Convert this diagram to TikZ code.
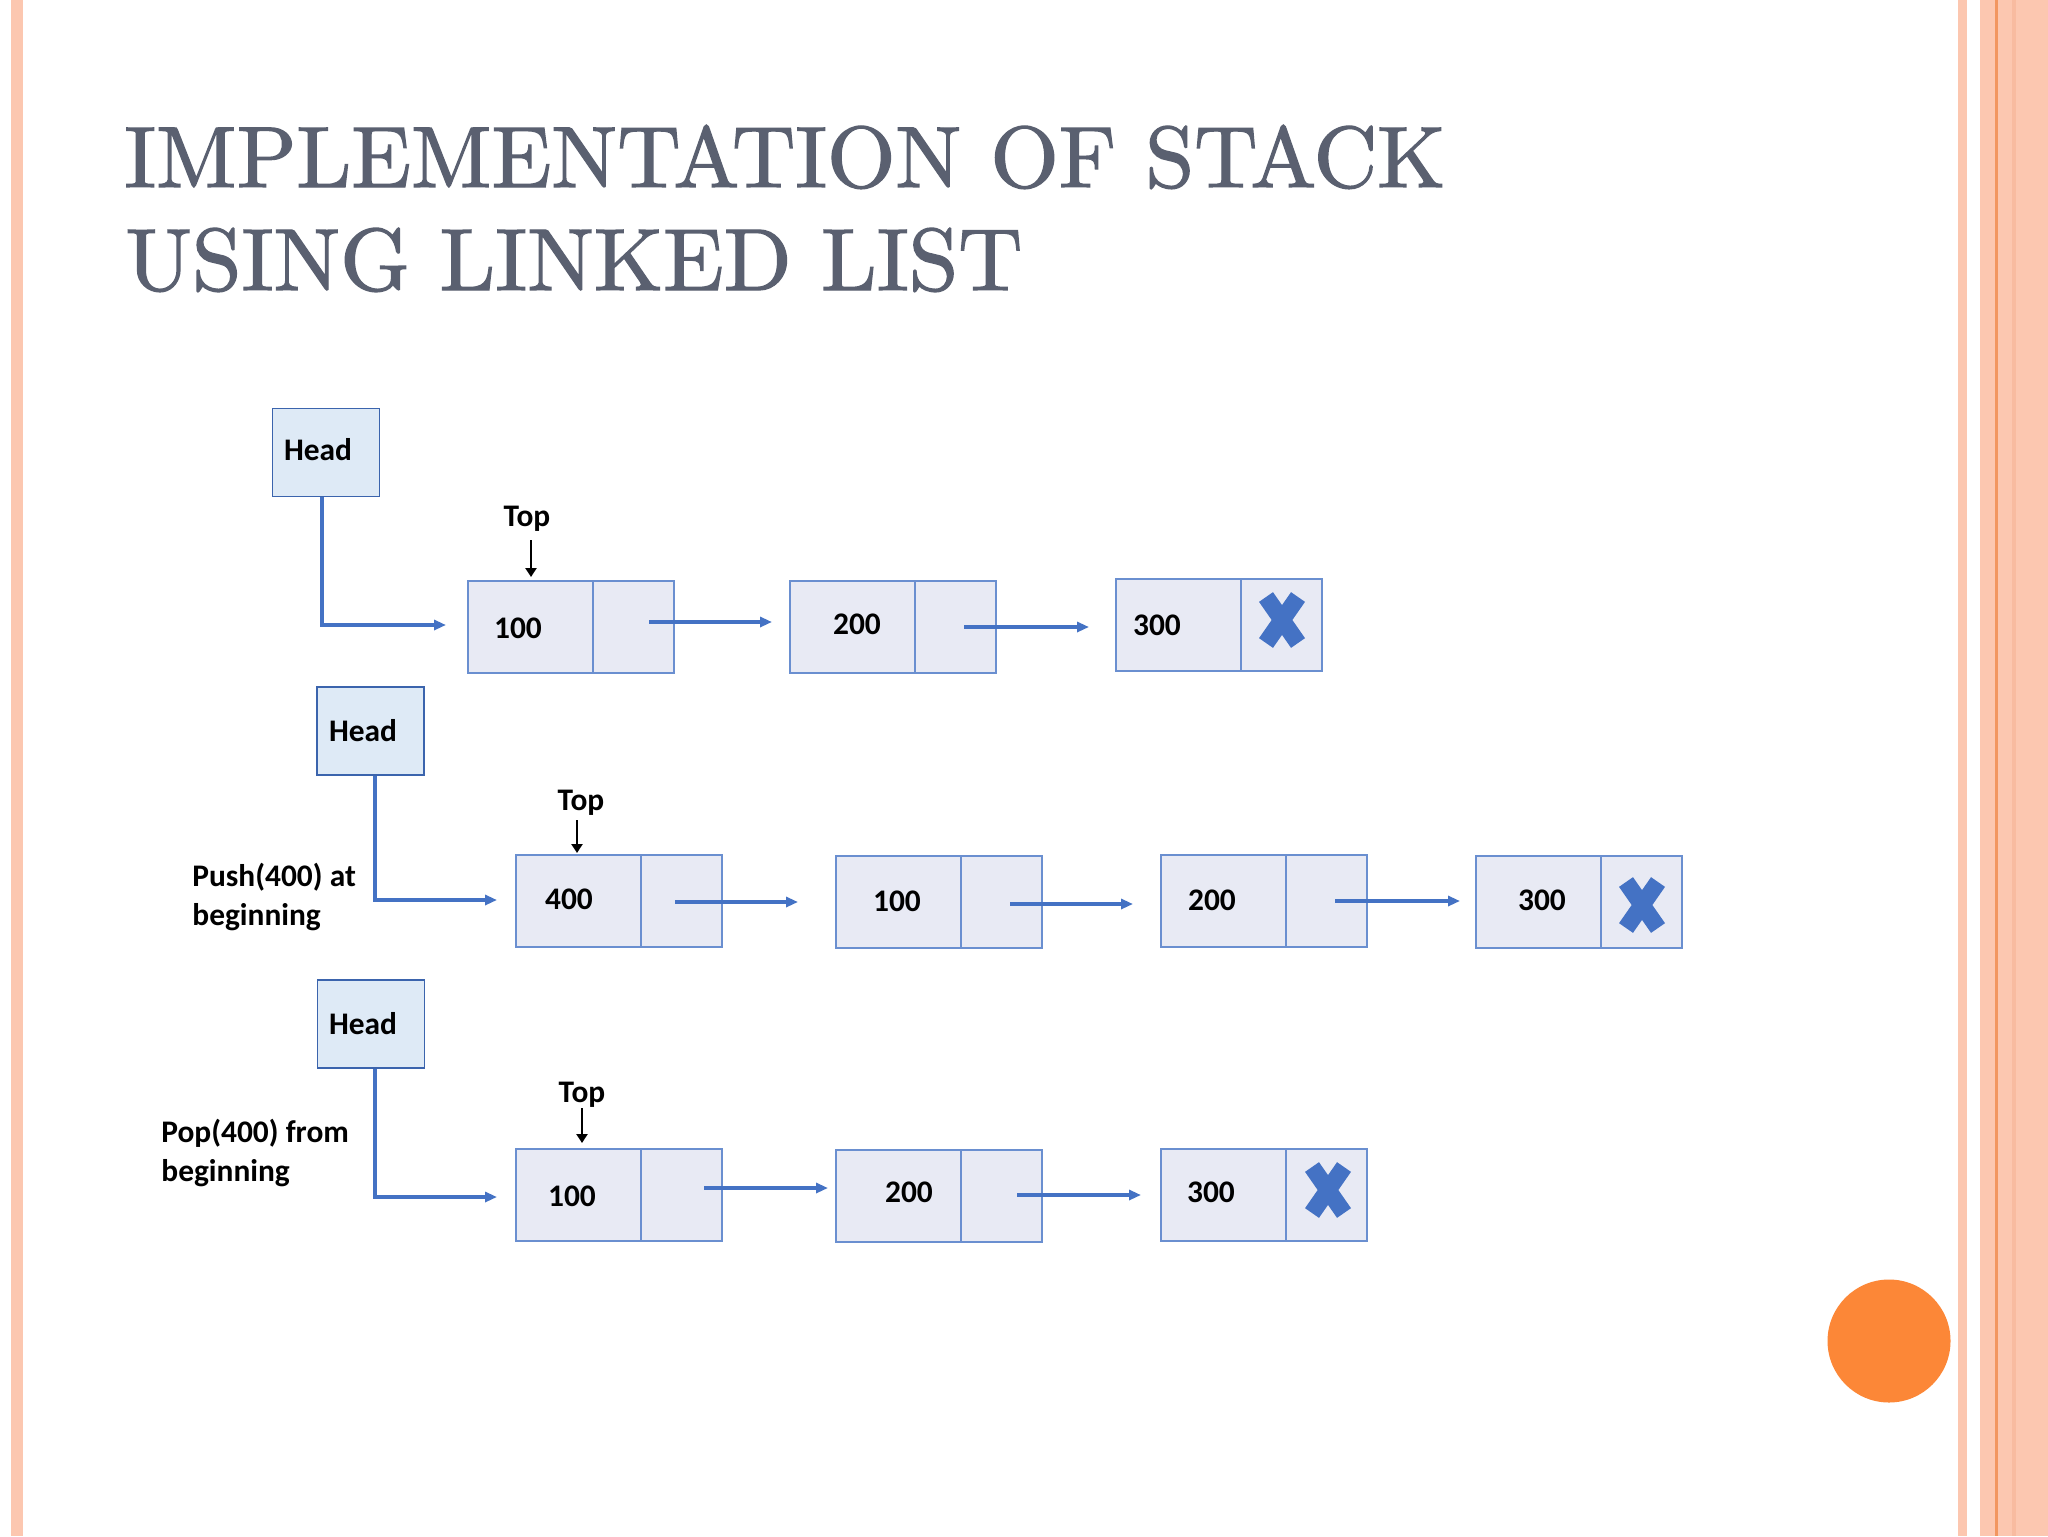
\documentclass[tikz,border=0pt]{standalone}
\usepackage{fontspec}
\newfontfamily\calib{Carlito}
\newfontfamily\titlefont[FakeBold=1.5]{Latin Modern Roman}
\usetikzlibrary{arrows.meta}
\definecolor{salmon}{HTML}{FCC7B0}
\definecolor{salmondk}{HTML}{F8BBA0}
\definecolor{orline}{HTML}{F29660}
\definecolor{titlegray}{HTML}{5A6070}
\definecolor{nodefill}{HTML}{E8EAF4}
\definecolor{headfill}{HTML}{DEEAF6}
\definecolor{nodeblue}{HTML}{6A8FD0}
\definecolor{headborder}{HTML}{3B64AD}
\definecolor{linkblue}{HTML}{4472C4}
\definecolor{dotorange}{HTML}{FC8737}
\tikzset{
  cellbox/.style={draw=nodeblue, fill=nodefill, line width=0.7pt, minimum height=46pt, inner sep=0pt},
  datacell/.style={cellbox, minimum width=62.5pt},
  ptrcell/.style={cellbox, minimum width=40.5pt},
  headbox/.style={draw=headborder, fill=headfill, line width=0.9pt, minimum width=53.5pt, minimum height=44pt, inner sep=0pt},
  txt/.style={font=\calib\bfseries\fontsize{15.7pt}{19.5pt}\selectfont, inner sep=0pt, text=black},
  link/.style={draw=linkblue, line width=1.7pt, -{Triangle[length=6pt,width=5pt]}},
  toparrow/.style={draw=black, line width=1.2pt, -{Triangle[length=4.5pt,width=5.5pt]}},
  xmark/.style={draw=linkblue, line width=8.5pt, line cap=butt},
  titletxt/.style={anchor=base west, inner sep=0pt, text=titlegray, font=\titlefont},
}
\begin{document}
\begin{tikzpicture}[x=0.5pt,y=-0.5pt]
\useasboundingbox (0,0) rectangle (2048,1536);
\fill[white] (0,0) rectangle (2048,1536);
% borders
\fill[salmon] (11,0) rectangle (23,1536);
\fill[salmon] (1958,0) rectangle (1967,1536);
\fill[salmon] (1980,0) rectangle (2048,1536);
\fill[orline] (1995,0) rectangle (1997.5,1536);
\fill[salmondk] (2012,0) rectangle (2016,1536);
% title
\node[titletxt] (title1) at (124,187)
  {\resizebox{660.5pt}{31pt}{IMPLEMENTATION OF STACK}};
\node[titletxt] (title2) at (125,290)
  {\resizebox{448.5pt}{31pt}{USING LINKED LIST}};
% orange dot
\fill[dotorange] (1889,1341) circle [radius=61.5];

% ---------- Row 1 ----------
\node[headbox] (h1) at (326,452.5) {};
\node[txt] (h1t) at (318,450) {Head};
\node[datacell] (r1d1) at (530.5,627) {};
\node[ptrcell]  (r1p1) at (633.5,627) {};
\node[datacell] (r1d2) at (852.5,627) {};
\node[ptrcell]  (r1p2) at (955.5,627) {};
\node[datacell] (r1d3) at (1178.5,625) {};
\node[ptrcell]  (r1p3) at (1281.5,625) {};
\node[txt] (r1v1) at (518,628) {100};
\node[txt] (r1v2) at (857,624) {200};
\node[txt] (r1v3) at (1157,625) {300};
\draw[xmark, shift={(1282,620)}] (-16,-23) -- (16,23) (-16,23) -- (16,-23);
\node[txt] (top1) at (527,519) {Top};
\coordinate (t1s) at (531,540);
\coordinate (t1e) at (531,577);
\draw[toparrow] (t1s) -- (t1e);
\coordinate (e1) at (446,625);
\draw[link] ([xshift=-2pt]h1.south) |- (e1);
\coordinate (s11) at (649,622); \coordinate (e11) at (772,622);
\coordinate (s12) at (964,627); \coordinate (e12) at (1089,627);
\draw[link] (s11) -- (e11);
\draw[link] (s12) -- (e12);

% ---------- Row 2 ----------
\node[headbox] (h2) at (370.5,731) {};
\node[txt] (h2t) at (363,731) {Head};
\node[txt, align=left, anchor=west] (push) at (192,897) {Push(400) at\\beginning};
\node[datacell] (r2d1) at (578.5,901) {};
\node[ptrcell]  (r2p1) at (681.5,901) {};
\node[datacell] (r2d2) at (898.5,902) {};
\node[ptrcell]  (r2p2) at (1001.5,902) {};
\node[datacell] (r2d3) at (1223.5,901) {};
\node[ptrcell]  (r2p3) at (1326.5,901) {};
\node[datacell] (r2d4) at (1538.5,902) {};
\node[ptrcell]  (r2p4) at (1641.5,902) {};
\node[txt] (r2v1) at (569,899) {400};
\node[txt] (r2v2) at (897,901) {100};
\node[txt] (r2v3) at (1212,900) {200};
\node[txt] (r2v4) at (1542,900) {300};
\draw[xmark, shift={(1642,905)}] (-16,-23) -- (16,23) (-16,23) -- (16,-23);
\node[txt] (top2) at (581,803) {Top};
\coordinate (t2s) at (577,820);
\coordinate (t2e) at (577,853);
\draw[toparrow] (t2s) -- (t2e);
\coordinate (e2) at (497,900);
\draw[link] ([xshift=2.25pt]h2.south) |- (e2);
\coordinate (s21) at (675,902);  \coordinate (e21) at (798,902);
\coordinate (s22) at (1010,904); \coordinate (e22) at (1133,904);
\coordinate (s23) at (1335,901); \coordinate (e23) at (1460,901);
\draw[link] (s21) -- (e21);
\draw[link] (s22) -- (e22);
\draw[link] (s23) -- (e23);

% ---------- Row 3 ----------
\node[headbox] (h3) at (371,1024) {};
\node[txt] (h3t) at (363,1024) {Head};
\node[txt, align=left, anchor=west] (pop) at (161,1153) {Pop(400) from\\beginning};
\node[datacell] (r3d1) at (578.5,1195) {};
\node[ptrcell]  (r3p1) at (681.5,1195) {};
\node[datacell] (r3d2) at (898.5,1196) {};
\node[ptrcell]  (r3p2) at (1001.5,1196) {};
\node[datacell] (r3d3) at (1223.5,1195) {};
\node[ptrcell]  (r3p3) at (1326.5,1195) {};
\node[txt] (r3v1) at (572,1196) {100};
\node[txt] (r3v2) at (909,1192) {200};
\node[txt] (r3v3) at (1211,1192) {300};
\draw[xmark, shift={(1328,1190)}] (-16,-23) -- (16,23) (-16,23) -- (16,-23);
\node[txt] (top3) at (582,1095) {Top};
\coordinate (t3s) at (582,1108);
\coordinate (t3e) at (582,1143);
\draw[toparrow] (t3s) -- (t3e);
\coordinate (e3) at (497,1197);
\draw[link] ([xshift=2pt]h3.south) |- (e3);
\coordinate (s31) at (704,1188);  \coordinate (e31) at (828,1188);
\coordinate (s32) at (1017,1195); \coordinate (e32) at (1141,1195);
\draw[link] (s31) -- (e31);
\draw[link] (s32) -- (e32);
\end{tikzpicture}
\end{document}
